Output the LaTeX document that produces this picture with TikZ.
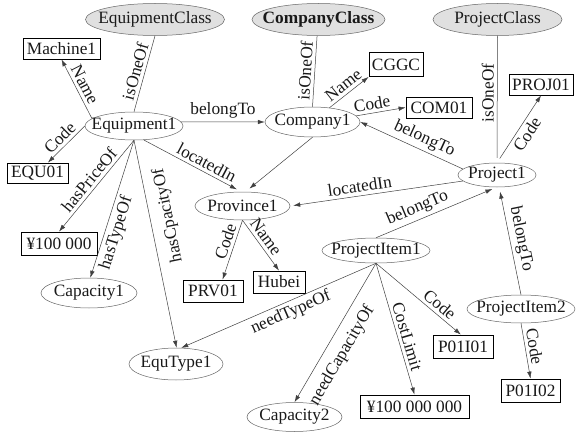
\documentclass[tikz,border=0pt]{standalone}
\usepackage{fontspec}
\setmainfont{Liberation Serif}
\usetikzlibrary{shapes.geometric,arrows.meta}
\newcommand\zwtext[1]{\makebox[0pt]{#1}}
\begin{document}
\begin{tikzpicture}[x=1pt,y=-1pt,
  every node/.style={font=\fontsize{17.3}{20}\selectfont, text=black!90},
  sz/.style 2 args={minimum width=#1pt, minimum height=#2pt},
  inst/.style={ellipse, draw=black!60, line width=0.5pt, inner sep=0pt},
  cls/.style={ellipse, draw=black!60, fill=black!12, line width=0.5pt, inner sep=0pt},
  lit/.style={rectangle, draw=black, line width=0.8pt, inner sep=0pt},
  rel/.style={draw=black!75, line width=0.5pt},
  arr/.style={rel, -{Latex[length=7pt,width=4.5pt]}},
  lbl/.style={sloped, inner sep=3.2pt}
]
\useasboundingbox (0,0) rectangle (578,433);

% class nodes
\node[cls, sz={139}{32}] (EquipmentClass) at (155,19.5) {\zwtext{EquipmentClass}};
\node[cls, sz={133}{32}] (CompanyClass) at (318.5,19.5) {\zwtext{\bfseries CompanyClass}};
\node[cls, sz={129}{32}] (ProjectClass) at (497.5,19.5) {\zwtext{ProjectClass}};

% instance nodes
\node[inst, sz={98}{28}] (Equipment1) at (134,126) {\zwtext{Equipment1}};
\node[inst, sz={95}{30}] (Company1) at (312.5,122) {\zwtext{Company1}};
\node[inst, sz={78}{24}] (Project1) at (497,175) {\zwtext{Project1}};
\node[inst, sz={95}{28}] (Province1) at (242.5,206) {\zwtext{Province1}};
\node[inst, sz={108}{25}] (ProjectItem1) at (376,250.5) {\zwtext{ProjectItem1}};
\node[inst, sz={108}{28}] (ProjectItem2) at (521,309) {\zwtext{ProjectItem2}};
\node[inst, sz={96}{30}] (Capacity1) at (89,293) {\zwtext{Capacity1}};
\node[inst, sz={94}{32}] (EquType1) at (176,364) {\zwtext{EquType1}};
\node[inst, sz={95}{29}] (Capacity2) at (294.5,417) {\zwtext{Capacity2}};

% literal values
\node[lit, sz={77}{21}] (Machine1) at (61.5,48.5) {Machine1};
\node[lit, sz={61}{20}] (EQU01) at (37.5,173) {EQU01};
\node[lit, sz={54}{24}] (CGGC) at (396,64.5) {CGGC};
\node[lit, sz={66}{21}] (COM01) at (439,107.5) {COM01};
\node[lit, sz={64}{21}] (PROJ01) at (541,84.5) {PROJ01};
\node[lit, sz={76}{23}] (Price) at (59,243.5) {¥100 000};
\node[lit, sz={60}{22}] (PRV01) at (213,291) {PRV01};
\node[lit, sz={52}{22}] (Hubei) at (279,282) {Hubei};
\node[lit, sz={60}{23}] (P01I01) at (463,346.5) {P01I01};
\node[lit, sz={59}{23}] (P01I02) at (530.5,390.5) {P01I02};
\node[lit, sz={109}{23}] (Cost) at (414.5,406.5) {¥100 000 000};

% Equipment1 relations
\draw[rel] (EquipmentClass.south) -- node[lbl, above] {isOneOf} (Equipment1.north);
\draw[arr] (Equipment1.170) -- node[lbl, above] {Name} (Machine1.south);
\draw[arr] (Equipment1.180) -- node[lbl, above] {Code} (EQU01.45);
\draw[arr] (Equipment1.5) -- node[lbl, above] {belongTo} (Company1.west);
\draw[arr, shorten >=5pt] (Equipment1.305) -- node[lbl, above, pos=0.6] {locatedIn} (Province1.95);
\draw[arr] (Equipment1.south) -- node[lbl, above] {hasPriceOf} (Price.north);
\draw[arr] (Equipment1.south) -- node[lbl, below, pos=0.65] {hasTypeOf} (Capacity1.85);
\draw[arr] (Equipment1.south) -- (EquType1.88);
\path (EquType1.88) -- node[lbl, allow upside down, below=7pt, pos=0.62] {hasCpacityOf} (Equipment1.south);

% Company1 relations
\draw[rel] (CompanyClass.265) -- node[lbl, above] {isOneOf} (Company1.north);
\draw[arr] (Company1.40) -- node[lbl, above] {Name} (CGGC.south west);
\draw[arr] (Company1.8) -- node[lbl, above, pos=0.35] {Code} (COM01.west);
\draw[arr, shorten >=5pt] (Company1.south) -- (Province1.78);

% Project1 relations
\draw[rel, shorten >=5pt] (ProjectClass.south) -- node[lbl, above, pos=0.45] {isOneOf} (Project1.north);
\draw[arr, shorten <=5pt] (Project1.north) -- node[lbl, below] {Code} (PROJ01.south);
\draw[arr] (Project1.170) -- node[lbl, above, pos=0.42] {belongTo} (Company1.east);
\draw[arr, shorten >=3pt] (Project1.190) -- node[lbl, above, pos=0.59] {locatedIn} (Province1.east);

% Province1 relations
\draw[arr] (Province1.south) -- node[lbl, above, pos=0.41] {Code} (PRV01.50);
\draw[arr] (Province1.south) -- node[lbl, above, pos=0.44] {Name} (Hubei.north);

% ProjectItem1 relations
\draw[arr, shorten >=4.5pt] (ProjectItem1.north) -- node[lbl, above, pos=0.38] {belongTo} (Project1.268);
\draw[arr] (ProjectItem1.south) -- node[lbl, below, pos=0.46] {needTypeOf} (EquType1.72);
\draw[arr] (ProjectItem1.south) -- node[lbl, below=6pt, pos=0.6] {needCapacityOf} (Capacity2.north);
\draw[arr] (ProjectItem1.south) -- node[lbl, above, pos=0.58] {CostLimit} (Cost.north);
\draw[arr] (ProjectItem1.south) -- node[lbl, above, pos=0.68] {Code} (P01I01.100);

% ProjectItem2 relations
\draw[arr, shorten >=4.5pt] (ProjectItem2.north) -- node[lbl, above] {belongTo} (Project1.280);
\draw[arr] (ProjectItem2.south) -- node[lbl, above, pos=0.45] {Code} (P01I02.north);
\end{tikzpicture}
\end{document}
